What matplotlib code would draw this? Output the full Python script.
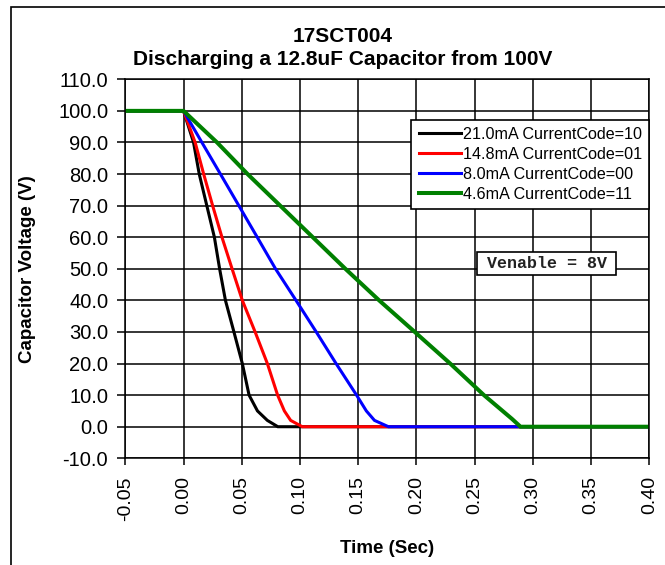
import matplotlib
matplotlib.use("Agg")
import matplotlib.pyplot as plt
from matplotlib.patches import Rectangle
from matplotlib.ticker import MultipleLocator, FormatStrFormatter

plt.rcParams['font.family'] = ['Liberation Sans', 'DejaVu Sans']

# Discharge curves: time (s) and capacitor voltage (V) for each current setting
labels = ["21.0mA CurrentCode=10", "14.8mA CurrentCode=01",
          "8.0mA CurrentCode=00", "4.6mA CurrentCode=11"]
colors = ["black", "red", "blue", "green"]

t_21mA = [-0.05, 0.0, 0.0086, 0.0135, 0.020, 0.0265, 0.031, 0.036, 0.0433,
          0.0505, 0.0563, 0.0635, 0.072, 0.081, 0.40]
v_21mA = [100, 100, 90, 80, 70, 60, 50, 40, 30, 20, 10, 5, 2, 0, 0]

t_14mA = [-0.05, 0.0, 0.010, 0.0173, 0.025, 0.033, 0.0417, 0.0505, 0.0615,
          0.072, 0.0808, 0.0866, 0.092, 0.102, 0.40]
v_14mA = [100, 100, 90, 80, 70, 60, 50, 40, 30, 20, 10, 5, 2, 0, 0]

t_8mA = [-0.05, 0.0, 0.0158, 0.0317, 0.0475, 0.0633, 0.079, 0.0966, 0.114,
         0.131, 0.1486, 0.157, 0.164, 0.176, 0.40]
v_8mA = [100, 100, 90, 80, 70, 60, 50, 40, 30, 20, 10, 5, 2, 0, 0]

t_4mA = [-0.05, 0.0, 0.0288, 0.055, 0.083, 0.111, 0.139, 0.168, 0.1986,
         0.229, 0.258, 0.282, 0.2894, 0.40]
v_4mA = [100, 100, 90, 80, 70, 60, 50, 40, 30, 20, 10, 2.5, 0, 0]

series_t = [t_21mA, t_14mA, t_8mA, t_4mA]
series_v = [v_21mA, v_14mA, v_8mA, v_4mA]
widths = [2.2, 2.2, 2.2, 2.9]

fig = plt.figure(figsize=(6.65, 5.65), dpi=100)
fig.patch.set_facecolor("white")

# outer chart frame
fig.patches.append(Rectangle((11 / 665, -0.1), 1.2, 1.1 - 7 / 565,
                             transform=fig.transFigure, fill=False,
                             edgecolor="black", linewidth=1.2))

ax = fig.add_axes([125.3 / 665, 1 - 458.3 / 565, 524 / 665, 379 / 565])

for t, v, c, lab, lw in zip(series_t, series_v, colors, labels, widths):
    ax.plot(t, v, color=c, linewidth=lw, label=lab, solid_joinstyle="miter")

ax.set_xlim(-0.05, 0.40)
ax.set_ylim(-10, 110)
ax.xaxis.set_major_locator(MultipleLocator(0.05))
ax.yaxis.set_major_locator(MultipleLocator(10))
ax.xaxis.set_major_formatter(FormatStrFormatter("%.2f"))
ax.yaxis.set_major_formatter(FormatStrFormatter("%.1f"))
ax.grid(True, color="black", linewidth=1.1)
ax.set_axisbelow(True)
for s in ax.spines.values():
    s.set_linewidth(1.1)
ax.tick_params(axis="y", direction="out", length=5.8, width=1.1, pad=6.5,
               labelsize=14.5)
ax.tick_params(axis="x", direction="out", length=5, width=1.1, pad=8,
               labelsize=14, labelrotation=90)

ax.set_xlabel("Time (Sec)", fontsize=13.5, fontweight="bold")
ax.xaxis.set_label_coords(0.5, -0.216)
ax.set_ylabel("Capacitor Voltage (V)", fontsize=13.5, fontweight="bold")
ax.yaxis.set_label_coords(-0.170, 0.5)

fig.text(343 / 665, 1 - 36 / 565, "17SCT004", ha="center", va="center",
         fontsize=15, fontweight="bold")
fig.text(343 / 665, 1 - 60 / 565, "Discharging a 12.8uF Capacitor from 100V",
         ha="center", va="center", fontsize=15, fontweight="bold")

leg = ax.legend(loc="upper right", bbox_to_anchor=(1.0, 0.893),
                borderaxespad=0, fancybox=False, framealpha=1,
                edgecolor="black", fontsize=11.6, handlelength=2.6,
                handletextpad=0.15, labelspacing=0.3, borderpad=0.45)
leg.get_frame().set_linewidth(1.2)

# annotation box for the enable voltage
ax.add_patch(Rectangle((0.6712, 0.4836), 0.2652, 0.0607,
                       transform=ax.transAxes, facecolor="white",
                       edgecolor="black", linewidth=1.2, zorder=4))
ax.text(0.804, 0.514, "Venable = 8V", transform=ax.transAxes,
        ha="center", va="center", fontsize=12, fontweight="bold",
        family="Liberation Mono", color="#222222", zorder=5)

fig.savefig("out.png", dpi=100)
